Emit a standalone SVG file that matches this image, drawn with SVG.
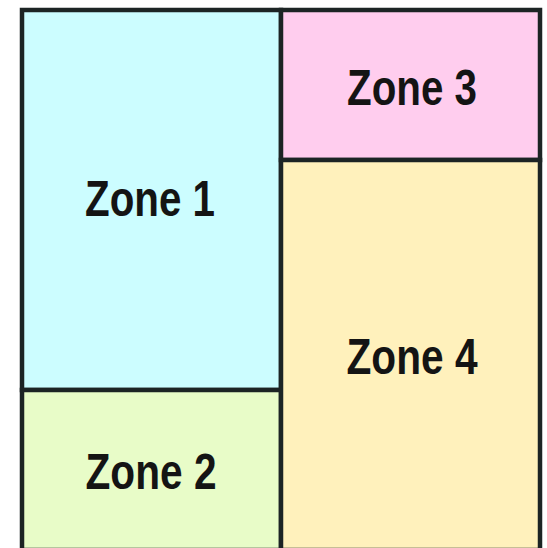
<svg xmlns="http://www.w3.org/2000/svg" width="547" height="548" viewBox="0 0 547 548">
<style>
.zone{stroke:#1c2424;stroke-width:4.5}
.lbl{font-family:"Liberation Sans",Arial,sans-serif;font-weight:bold;font-size:50px;fill:#141414;text-anchor:middle}
</style>
<rect x="0" y="0" width="547" height="548" fill="#ffffff"/>
<g id="zone1"><rect class="zone" x="22" y="10" width="259" height="380" fill="#ccfdff"/><text class="lbl" x="150" y="216" textLength="130" lengthAdjust="spacingAndGlyphs">Zone 1</text></g>
<g id="zone2"><rect class="zone" x="22" y="390" width="259" height="160" fill="#e8fcc8"/><text class="lbl" x="151" y="489" textLength="131" lengthAdjust="spacingAndGlyphs">Zone 2</text></g>
<g id="zone3"><rect class="zone" x="281" y="10" width="259" height="150" fill="#ffcdee"/><text class="lbl" x="412" y="105" textLength="130" lengthAdjust="spacingAndGlyphs">Zone 3</text></g>
<g id="zone4"><rect class="zone" x="281" y="160" width="259" height="390" fill="#fff1bc"/><text class="lbl" x="412" y="374" textLength="131" lengthAdjust="spacingAndGlyphs">Zone 4</text></g>
<g id="connectors"></g>
</svg>
